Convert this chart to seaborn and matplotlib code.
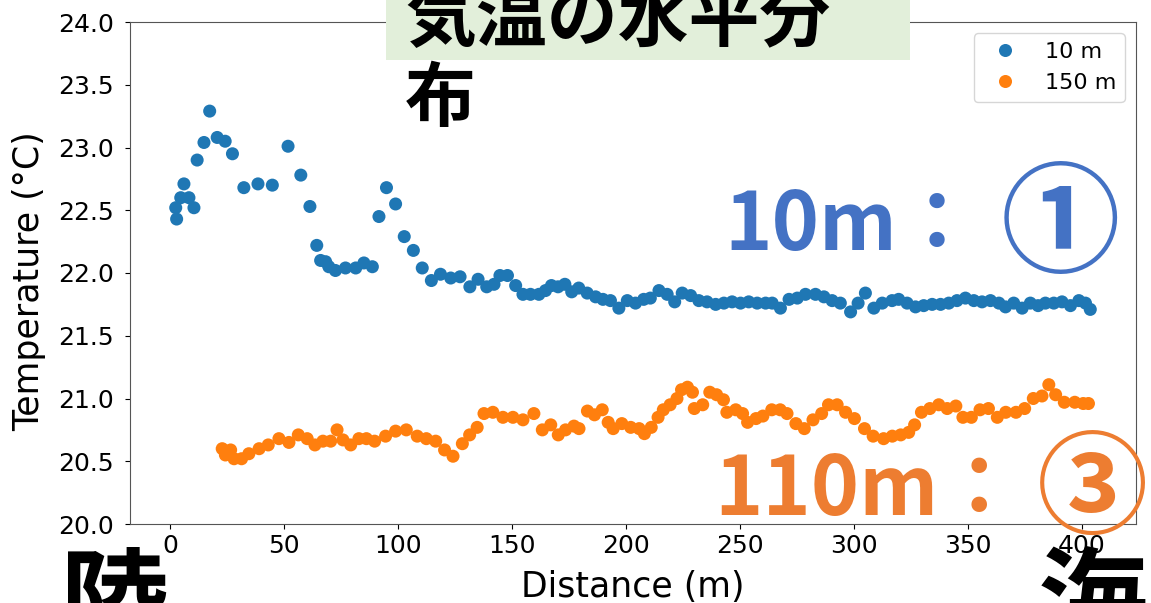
import matplotlib
matplotlib.use("Agg")
import matplotlib.pyplot as plt
from matplotlib.patches import Rectangle
import numpy as np
import pandas as pd
import seaborn as sns

plt.rcParams['font.family'] = ['DejaVu Sans', 'Noto Sans CJK JP']

# ---- data: air temperature along the transect ----
dist_10m = [2.3, 2.7, 4.5, 5.9, 8.1, 10.3, 11.7, 14.7, 17.2, 20.5, 24.0, 27.2,
            32.2, 38.4, 44.7, 51.6, 57.2, 61.2, 64.2, 65.9, 68.1, 69.5, 72.4,
            76.8, 81.3, 84.9, 88.6, 91.5, 94.8, 98.8, 102.6, 106.6, 110.5,
            114.5, 118.5, 123.0, 127.1, 131.4, 135.0, 138.8, 142.0, 144.6,
            147.9, 151.5, 154.7, 158.0, 161.7, 164.6, 167.2, 170.1, 173.1,
            176.1, 179.2, 182.9, 186.6, 189.8, 193.1, 196.8, 200.5, 204.1,
            207.7, 210.6, 214.4, 218.0, 221.3, 224.6, 228.3, 231.9, 235.5,
            239.3, 242.9, 246.5, 250.2, 253.8, 257.5, 261.2, 264.1, 267.7,
            271.5, 275.1, 278.7, 283.1, 286.8, 290.4, 294.0, 298.5, 301.8,
            305.0, 308.7, 312.4, 316.7, 319.6, 323.3, 327.0, 330.6, 334.3,
            338.0, 341.6, 345.2, 348.9, 352.6, 356.2, 359.9, 363.6, 366.5,
            370.1, 373.8, 377.4, 380.8, 384.0, 387.7, 391.3, 395.0, 398.7,
            401.6, 403.7]
temp_10m = [22.52, 22.43, 22.60, 22.71, 22.60, 22.52, 22.90, 23.04, 23.29, 23.08,
            23.05, 22.95, 22.68, 22.71, 22.70, 23.01, 22.78, 22.53, 22.22, 22.10,
            22.09, 22.05, 22.02, 22.04, 22.04, 22.08, 22.05, 22.45, 22.68, 22.55,
            22.29, 22.18, 22.04, 21.94, 21.99, 21.96, 21.97, 21.89, 21.95, 21.89,
            21.91, 21.98, 21.98, 21.90, 21.83, 21.83, 21.83, 21.86, 21.90, 21.89,
            21.91, 21.85, 21.88, 21.84, 21.81, 21.79, 21.78, 21.72, 21.78, 21.76,
            21.79, 21.80, 21.86, 21.83, 21.77, 21.84, 21.82, 21.78, 21.77, 21.75,
            21.76, 21.77, 21.76, 21.77, 21.76, 21.76, 21.76, 21.72, 21.79, 21.80,
            21.83, 21.83, 21.81, 21.78, 21.76, 21.69, 21.76, 21.84, 21.72, 21.76,
            21.78, 21.79, 21.76, 21.73, 21.74, 21.75, 21.75, 21.76, 21.78, 21.80,
            21.78, 21.77, 21.78, 21.76, 21.73, 21.76, 21.72, 21.76, 21.74, 21.76,
            21.76, 21.77, 21.74, 21.78, 21.76, 21.71]

dist_150m = [22.7, 24.1, 26.4, 27.9, 31.2, 34.4, 38.9, 42.9, 47.6, 52.0, 56.1,
             60.0, 63.4, 66.9, 70.3, 73.1, 75.7, 79.1, 82.7, 86.0, 89.6, 94.4,
             98.8, 103.5, 108.3, 112.3, 116.4, 120.3, 124.0, 128.1, 131.3,
             134.6, 137.6, 141.5, 145.9, 150.3, 154.7, 159.5, 163.2, 166.9,
             170.2, 173.4, 177.1, 179.3, 183.0, 186.1, 189.5, 192.1, 194.3,
             198.1, 202.0, 205.7, 208.0, 211.0, 214.0, 216.3, 219.3, 222.3,
             224.3, 226.9, 229.1, 229.9, 233.6, 236.7, 239.7, 242.7, 244.2,
             248.1, 251.1, 253.3, 257.0, 260.0, 263.9, 267.6, 270.6, 274.5,
             278.2, 282.0, 285.8, 288.8, 292.6, 296.3, 300.2, 304.6, 308.4,
             313.0, 316.8, 320.5, 324.0, 326.6, 329.6, 333.3, 337.2, 340.9,
             344.7, 347.8, 351.5, 355.3, 359.0, 362.9, 366.6, 371.1, 374.9,
             378.7, 382.5, 385.5, 388.5, 392.3, 396.9, 400.6, 402.9]
temp_150m = [20.60, 20.55, 20.59, 20.52, 20.52, 20.56, 20.60, 20.63, 20.68, 20.65,
             20.71, 20.68, 20.63, 20.66, 20.66, 20.75, 20.67, 20.63, 20.68, 20.68,
             20.66, 20.70, 20.74, 20.75, 20.70, 20.68, 20.66, 20.59, 20.54, 20.64,
             20.71, 20.77, 20.88, 20.89, 20.85, 20.85, 20.83, 20.88, 20.75, 20.79,
             20.71, 20.75, 20.78, 20.76, 20.90, 20.87, 20.91, 20.81, 20.76, 20.80,
             20.77, 20.76, 20.72, 20.77, 20.85, 20.91, 20.95, 21.00, 21.07, 21.09,
             21.05, 20.92, 20.95, 21.05, 21.03, 20.99, 20.89, 20.91, 20.88, 20.81,
             20.84, 20.86, 20.91, 20.91, 20.88, 20.80, 20.76, 20.83, 20.88, 20.95,
             20.95, 20.89, 20.84, 20.76, 20.70, 20.68, 20.70, 20.71, 20.73, 20.79,
             20.89, 20.92, 20.95, 20.92, 20.94, 20.85, 20.85, 20.91, 20.92, 20.85,
             20.89, 20.89, 20.92, 21.00, 21.02, 21.11, 21.03, 20.97, 20.97, 20.96,
             20.96]

series_labels = ["10 m", "150 m"]
series_colors = ["#1f77b4", "#ff7f0e"]
x_ticks = [0, 50, 100, 150, 200, 250, 300, 350, 400]
y_ticks = [20.0, 20.5, 21.0, 21.5, 22.0, 22.5, 23.0, 23.5, 24.0]

df = pd.concat([
    pd.DataFrame({"Distance": dist_10m, "Temperature": temp_10m, "height": series_labels[0]}),
    pd.DataFrame({"Distance": dist_150m, "Temperature": temp_150m, "height": series_labels[1]}),
], ignore_index=True)

W, H = 1151, 603
fig = plt.figure(figsize=(W / 100, H / 100), dpi=100)


def fx(px):
    return px / W


def fy(py):
    return 1 - py / H


ax = fig.add_axes([fx(130), fy(524), fx(1136) - fx(130), fy(22) - fy(524)])

sns.scatterplot(data=df, x="Distance", y="Temperature", hue="height",
                hue_order=series_labels, palette=series_colors,
                s=88, linewidth=0, ax=ax)

ax.set_ylim(20.0, 24.0)
ax.set_xticks(x_ticks)
ax.set_yticks(y_ticks)
ax.set_yticklabels([f"{v:.1f}" for v in y_ticks])
ax.tick_params(labelsize=18)
ax.tick_params(axis="y", pad=8)
ax.set_xlabel("Distance (m)", fontsize=25, labelpad=9)
ax.set_ylabel("Temperature (\u00b0C)", fontsize=25)
ax.yaxis.set_label_coords(-0.083, 0.484)
for sp in ax.spines.values():
    sp.set_color("#555555")

leg = ax.legend(loc="upper right", fontsize=16, title=None)

# title panel
cjk = ['Noto Sans CJK JP', 'DejaVu Sans']
fig.patches.append(Rectangle((fx(386), fy(60)), fx(910) - fx(386), fy(0) - fy(60),
                             transform=fig.transFigure, facecolor="#E2EFDA",
                             edgecolor="none", zorder=5))
fig.text(fx(405), fy(41), "気温の水平分", family=cjk, weight="bold",
         fontsize=51, color="black", ha="left", va="baseline", zorder=6)
fig.text(fx(405), fy(121), "布", family=cjk, weight="bold",
         fontsize=51, color="black", ha="left", va="baseline", zorder=6)

# height annotations
blue_txt, orange_txt = "#4472C4", "#ED7D31"
fig.text(fx(724), fy(250), "10m：", family=cjk, weight="bold",
         fontsize=58, color=blue_txt, ha="left", va="baseline", zorder=6)
fig.text(fx(1060), fy(263), "①", family=cjk, weight="bold",
         fontsize=86, color=blue_txt, ha="center", va="baseline", zorder=6)
fig.text(fx(714), fy(515), "110m：", family=cjk, weight="bold",
         fontsize=59, color=orange_txt, ha="left", va="baseline", zorder=6)
fig.text(fx(1092), fy(525), "③", family=cjk, weight="bold",
         fontsize=80, color=orange_txt, ha="center", va="baseline", zorder=6)

# land / sea
fig.text(fx(60), fy(639), "陸", family=cjk, weight="bold",
         fontsize=79, color="black", ha="left", va="baseline", zorder=6)
fig.text(fx(1038), fy(639), "海", family=cjk, weight="bold",
         fontsize=79, color="black", ha="left", va="baseline", zorder=6)

fig.savefig("out.png", dpi=100)
